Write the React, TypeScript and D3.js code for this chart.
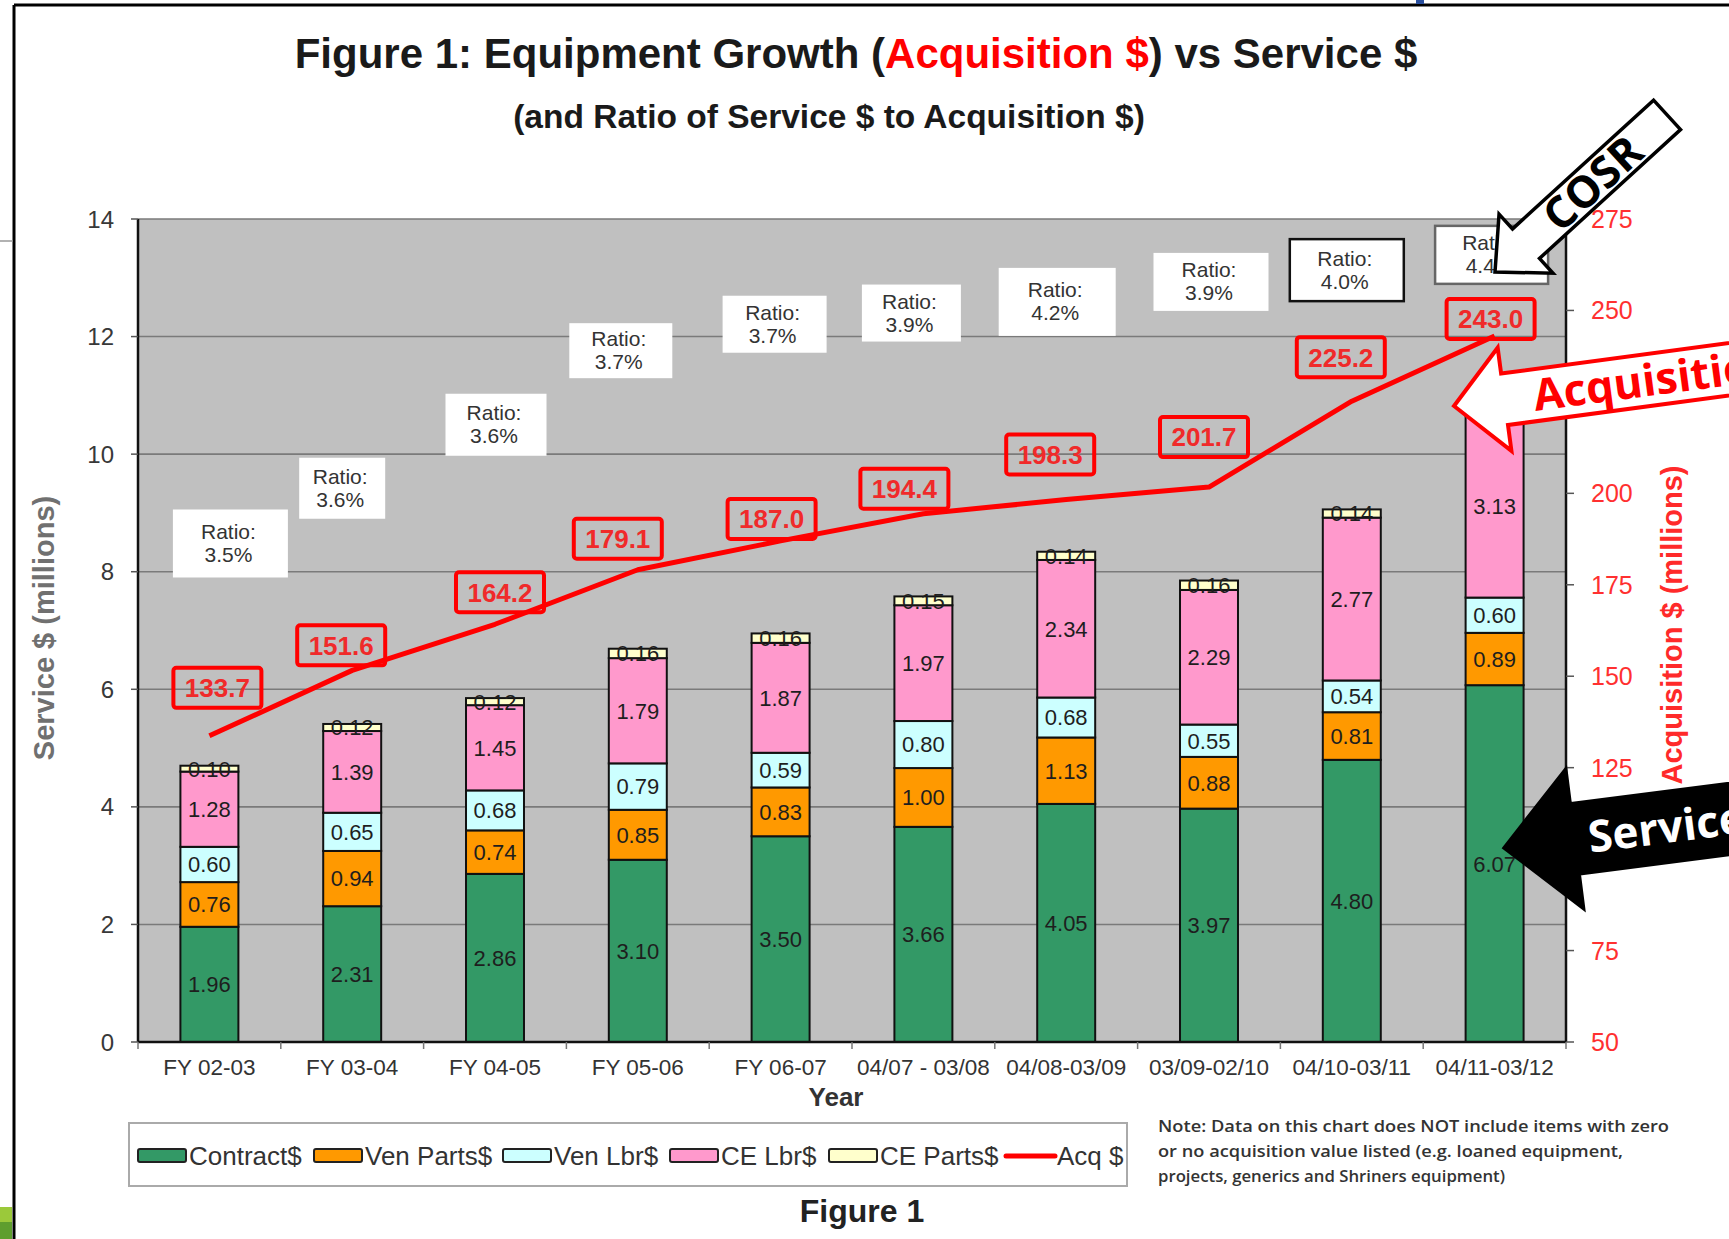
import React from "react";
import * as d3 from "d3";

// ---------- data ----------
const categories = ["FY 02-03", "FY 03-04", "FY 04-05", "FY 05-06", "FY 06-07", "04/07 - 03/08", "04/08-03/09", "03/09-02/10", "04/10-03/11", "04/11-03/12"];
const contract = [1.96, 2.31, 2.86, 3.10, 3.50, 3.66, 4.05, 3.97, 4.80, 6.07];
const venParts = [0.76, 0.94, 0.74, 0.85, 0.83, 1.00, 1.13, 0.88, 0.81, 0.89];
const venLbr = [0.60, 0.65, 0.68, 0.79, 0.59, 0.80, 0.68, 0.55, 0.54, 0.60];
const ceLbr = [1.28, 1.39, 1.45, 1.79, 1.87, 1.97, 2.34, 2.29, 2.77, 3.13];
const ceParts = [0.10, 0.12, 0.12, 0.16, 0.16, 0.15, 0.14, 0.16, 0.14, 0.17];
const acq = [133.7, 151.6, 164.2, 179.1, 187.0, 194.4, 198.3, 201.7, 225.2, 243.0];
const ratios = ["3.5%", "3.6%", "3.6%", "3.7%", "3.7%", "3.9%", "4.2%", "3.9%", "4.0%", "4.4%"];
const leftTicks = [0, 2, 4, 6, 8, 10, 12, 14];
const rightTicks = [50, 75, 100, 125, 150, 175, 200, 225, 250, 275];
const seriesKeys = ["Contract$", "Ven Parts$", "Ven Lbr$", "CE Lbr$", "CE Parts$"];
const seriesValues = [contract, venParts, venLbr, ceLbr, ceParts];

// ---------- layout / style ----------
const seriesColors = ["#339966", "#FF9900", "#CCFFFF", "#FF99CC", "#FFFFCC"];
const ratioLabelAt = [8.48, 9.42, 10.5, 11.76, 12.21, 12.4, 12.59, 12.93, 13.13, 13.39];
const ratioDx = [21, -10, 1, -17, -6, -12, -9, 2, -5, -3];
const ratioBoxW = [115, 86, 101, 103, 104, 99, 117, 115, 114, 113];
const ratioBoxH = [68, 61, 62, 55, 57, 57, 68, 58, 62, 58];
const ratioBorder = ["none", "none", "none", "none", "none", "none", "none", "none", "#111", "#666"];
const acqLabelDx = [8, -11, 5, -20, -9, -19, -16, -5, -11, -4];
const acqLabelDy = [-48, -25, -32, -31, -22, -25, -45, -50, -44, -17];
const legendSwatchX = [138, 314, 503, 670, 829];
const FONT = "'Liberation Sans', Arial, Helvetica, sans-serif";
const FONT2 = "'Open Sans', 'Noto Sans', sans-serif";

const W = 1729, H = 1239;
const PL = 138, PR = 1566, PT = 219, PB = 1042;

function arrowPoints(hl: number, hw: number, sw: number, L: number) {
  return [
    [0, 0], [hl, -hw], [hl, -sw], [L, -sw], [L, sw], [hl, sw], [hl, hw],
  ].map((p) => p.join(",")).join(" ");
}

export default function App() {
  const x = d3.scaleBand<string>().domain(categories).range([PL, PR]).paddingInner(0.594).paddingOuter(0.297);
  const yL = d3.scaleLinear().domain([0, 14]).range([PB, PT]);
  const yR = d3.scaleLinear().domain([50, 275]).range([PB, PT]);

  const rows = categories.map((c, i) => {
    const r: any = { cat: c };
    seriesKeys.forEach((k, j) => (r[k] = seriesValues[j][i]));
    return r;
  });
  const stacked = d3.stack<any>().keys(seriesKeys)(rows);
  const line = d3.line<number>().x((_, i) => x(categories[i])! + x.bandwidth() / 2).y((d) => yR(d));
  const cx = (i: number) => x(categories[i])! + x.bandwidth() / 2;
  const step = x.step();

  return (
    <svg width={W} height={H} style={{ position: "absolute", left: 0, top: 0, background: "#fff" }} xmlns="http://www.w3.org/2000/svg">
      <rect x={0} y={0} width={W} height={H} fill="#fff" />
      {/* page frame */}
      <line x1={14} y1={5} x2={W} y2={5} stroke="#000" strokeWidth={3} />
      <line x1={14} y1={5} x2={14} y2={H} stroke="#000" strokeWidth={3} />
      <line x1={0} y1={241} x2={13} y2={241} stroke="#999" strokeWidth={1.5} />
      <rect x={0} y={1207} width={12} height={15} fill="#9BC93A" />
      <rect x={0} y={1222} width={12} height={17} fill="#5E9E2E" />
      <rect x={1416} y={0} width={8} height={4} fill="#2a4f9e" />

      {/* titles */}
      <text x={856} y={68} textAnchor="middle" fontFamily={FONT} fontWeight="bold" fontSize={42} fill="#1a1a1a">
        Figure 1: Equipment Growth (<tspan fill="#FF0000">Acquisition $</tspan>) vs Service $
      </text>
      <text x={829} y={128} textAnchor="middle" fontFamily={FONT} fontWeight="bold" fontSize={33.5} fill="#1a1a1a">
        (and Ratio of Service $ to Acquisition $)
      </text>

      {/* plot area */}
      <rect x={PL} y={PT} width={PR - PL} height={PB - PT} fill="#C0C0C0" />
      {leftTicks.map((t) => (
        <line key={"g" + t} x1={PL} x2={PR} y1={yL(t)} y2={yL(t)} stroke="#7a7a7a" strokeWidth={1.6} />
      ))}

      {/* bars */}
      {stacked.map((s, j) => (
        <g key={s.key}>
          {s.map((d, i) => (
            <rect key={i} x={x(categories[i])} y={yL(d[1])} width={x.bandwidth()} height={yL(d[0]) - yL(d[1])}
              fill={seriesColors[j]} stroke="#111" strokeWidth={2} />
          ))}
        </g>
      ))}
      {stacked.map((s) => (
        <g key={"l" + s.key}>
          {s.map((d, i) => (
            <text key={i} x={cx(i)} y={(yL(d[0]) + yL(d[1])) / 2} dy="0.36em" textAnchor="middle"
              fontFamily={FONT} fontSize={22} fill="#1e1e1e">
              {(d[1] - d[0]).toFixed(2)}
            </text>
          ))}
        </g>
      ))}

      {/* axes */}
      <line x1={PL} x2={PL} y1={PT} y2={PB} stroke="#111" strokeWidth={2.5} />
      <line x1={PR} x2={PR} y1={PT} y2={PB} stroke="#111" strokeWidth={2.5} />
      <line x1={PL} x2={PR} y1={PB} y2={PB} stroke="#111" strokeWidth={2.5} />
      {leftTicks.map((t) => (
        <g key={"lt" + t}>
          <line x1={PL - 7} x2={PL} y1={yL(t)} y2={yL(t)} stroke="#555" strokeWidth={1.5} />
          <text x={114} y={yL(t)} dy="0.36em" textAnchor="end" fontFamily={FONT} fontSize={24} fill="#383838">{t}</text>
        </g>
      ))}
      {rightTicks.map((t) => (
        <g key={"rt" + t}>
          <line x1={PR} x2={PR + 8} y1={yR(t)} y2={yR(t)} stroke="#555" strokeWidth={1.5} />
          <text x={1591} y={yR(t)} dy="0.36em" textAnchor="start" fontFamily={FONT} fontSize={25} fill="#FF3030">{t}</text>
        </g>
      ))}
      {d3.range(categories.length + 1).map((i) => (
        <line key={"xt" + i} x1={PL + i * step} x2={PL + i * step} y1={PB} y2={PB + 7} stroke="#777" strokeWidth={1.5} />
      ))}
      {categories.map((c, i) => (
        <text key={c} x={cx(i)} y={1067} dy="0.36em" textAnchor="middle" fontFamily={FONT} fontSize={22.5} fill="#333">{c}</text>
      ))}
      <text x={836} y={1097} dy="0.36em" textAnchor="middle" fontFamily={FONT} fontWeight="bold" fontSize={26} fill="#333">Year</text>
      <text transform="translate(44,628) rotate(-90)" textAnchor="middle" dy="0.36em" fontFamily={FONT} fontWeight="bold" fontSize={29} fill="#707070">
        Service $ (millions)
      </text>
      <text transform="translate(1672,625) rotate(-90)" textAnchor="middle" dy="0.36em" fontFamily={FONT} fontWeight="bold" fontSize={29} fill="#FF2A2A">
        Acquisition $ (millions)
      </text>

      {/* ratio labels */}
      {ratios.map((r, i) => {
        const bx = cx(i) + ratioDx[i];
        const by = yL(ratioLabelAt[i]);
        return (
          <g key={"r" + i}>
            <rect x={bx - ratioBoxW[i] / 2} y={by - ratioBoxH[i] / 2} width={ratioBoxW[i]} height={ratioBoxH[i]}
              fill="#fff" stroke={ratioBorder[i]} strokeWidth={2.5} />
            <text x={bx - 2} y={by - 12} dy="0.36em" textAnchor="middle" fontFamily={FONT} fontSize={21} fill="#333">Ratio:</text>
            <text x={bx - 2} y={by + 11} dy="0.36em" textAnchor="middle" fontFamily={FONT} fontSize={21} fill="#333">{r}</text>
          </g>
        );
      })}

      {/* acquisition line */}
      <path d={line(acq)!} fill="none" stroke="#FF0000" strokeWidth={5} strokeLinejoin="round" />
      {acq.map((v, i) => {
        const lx = cx(i) + acqLabelDx[i];
        const ly = yR(v) + acqLabelDy[i];
        return (
          <g key={"a" + i}>
            <rect x={lx - 44} y={ly - 20} width={88} height={40} rx={3} fill="none" stroke="#FF0000" strokeWidth={4} />
            <text x={lx} y={ly} dy="0.36em" textAnchor="middle" fontFamily={FONT} fontWeight="bold" fontSize={26} fill="#F02A2A">
              {v.toFixed(1)}
            </text>
          </g>
        );
      })}

      {/* legend */}
      <rect x={129} y={1123} width={998} height={63} fill="#fff" stroke="#aaa" strokeWidth={2} />
      {seriesKeys.map((k, j) => (
        <g key={"lg" + k}>
          <rect x={legendSwatchX[j]} y={1149} width={48} height={13} rx={2} fill={seriesColors[j]} stroke="#222" strokeWidth={2} />
          <text x={legendSwatchX[j] + 51} y={1156} dy="0.36em" fontFamily={FONT} fontSize={26} fill="#333">{k}</text>
        </g>
      ))}
      <line x1={1006} x2={1055} y1={1156} y2={1156} stroke="#FF0000" strokeWidth={5} strokeLinecap="round" />
      <text x={1057} y={1156} dy="0.36em" fontFamily={FONT} fontSize={26} fill="#333">Acq $</text>

      <text x={862} y={1222} textAnchor="middle" fontFamily={FONT} fontWeight="bold" fontSize={32} fill="#222">Figure 1</text>

      {/* note */}
      <g fontFamily={FONT2} fontSize={15.5} fontWeight={600} fill="#333">
        <text x={1158} y={1132} textLength={511} lengthAdjust="spacingAndGlyphs">Note: Data on this chart does NOT include items with zero</text>
        <text x={1158} y={1157} textLength={465} lengthAdjust="spacingAndGlyphs">or no acquisition value listed (e.g. loaned equipment,</text>
        <text x={1158} y={1182} textLength={347} lengthAdjust="spacingAndGlyphs">projects, generics and Shriners equipment)</text>
      </g>

      {/* annotation arrows */}
      <g transform="translate(1495,272) rotate(-42.4)">
        <polygon points={arrowPoints(42, 40, 20, 233)} fill="#fff" stroke="#000" strokeWidth={3.5} strokeLinejoin="miter" />
        <text x={132} y={0} dy="0.36em" textAnchor="middle" fontFamily={FONT2} fontWeight="bold" fontSize={44} fill="#000">COSR</text>
      </g>
      <g transform="translate(1454,406) rotate(-7.6)">
        <polygon points={arrowPoints(51, 52, 26, 400)} fill="#fff" stroke="#FF0000" strokeWidth={4} strokeLinejoin="miter" />
        <text x={80} y={0} dy="0.36em" fontFamily={FONT2} fontWeight="bold" fontSize={44} fill="#FF0000">Acquisition</text>
      </g>
      <g transform="translate(1503,848) rotate(-7.3)">
        <polygon points={arrowPoints(73, 72, 36, 400)} fill="#000" stroke="#000" strokeWidth={2} />
        <text x={86} y={0} dy="0.36em" fontFamily={FONT2} fontWeight="bold" fontSize={44} fill="#fff">Service</text>
      </g>
    </svg>
  );
}
